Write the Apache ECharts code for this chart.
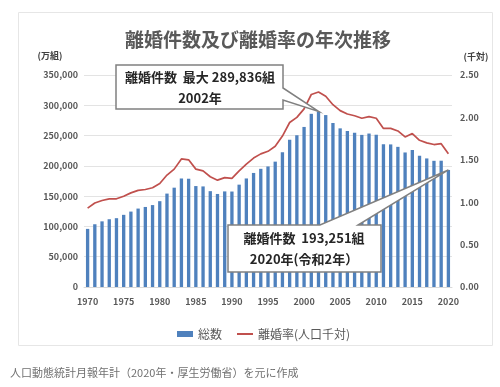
<!DOCTYPE html>
<html><head><meta charset="utf-8">
<script src="https://cdn.jsdelivr.net/npm/echarts@6/dist/echarts.min.js"></script>
<style>html,body{margin:0;padding:0;background:#fff}#c{width:500px;height:387px}</style>
</head><body><div id="c"></div>
<script>
const years = ['1970','1971','1972','1973','1974','1975','1976','1977','1978','1979',
  '1980','1981','1982','1983','1984','1985','1986','1987','1988','1989',
  '1990','1991','1992','1993','1994','1995','1996','1997','1998','1999',
  '2000','2001','2002','2003','2004','2005','2006','2007','2008','2009',
  '2010','2011','2012','2013','2014','2015','2016','2017','2018','2019','2020'];
const divorces = [95937,103595,108382,111877,113622,119135,124512,129485,132146,135250,
  141689,154221,163980,179150,178746,166640,166054,158227,153600,157811,
  157608,168969,179191,188297,195106,199016,206955,222635,243183,250529,
  264246,285911,289836,283854,270804,261917,257475,254832,251136,253353,
  251378,235719,235406,231383,222107,226215,216798,212262,208333,208496,193251];
const rate = [0.93,0.99,1.02,1.04,1.04,1.07,1.11,1.14,1.15,1.17,
  1.22,1.32,1.39,1.51,1.50,1.39,1.37,1.30,1.26,1.29,
  1.28,1.37,1.45,1.52,1.57,1.60,1.66,1.78,1.94,2.00,
  2.10,2.27,2.30,2.25,2.15,2.08,2.04,2.02,1.99,2.01,
  1.99,1.87,1.87,1.84,1.77,1.81,1.73,1.70,1.68,1.69,1.57];
const seriesNames = ['総数','離婚率(人口千対)'];
const titleText = '離婚件数及び離婚率の年次推移';
const note1 = ['離婚件数  最大 289,836組','2002年'];
const note2 = ['離婚件数  193,251組','2020年(令和2年）'];
const footer = '人口動態統計月報年計（2020年・厚生労働省）を元に作成';

const FONT = '"Noto Sans CJK JP", sans-serif';
const chart = echarts.init(document.getElementById('c'), null, {renderer:'canvas'});
const axisLbl = {color:'#595959', fontSize:9, fontWeight:'bold', fontFamily:FONT};
chart.setOption({
  animation:false,
  textStyle:{fontFamily:FONT},
  grid:{left:84, right:48, top:75, bottom:100, containLabel:false},
  legend:{
    data:[{name:seriesNames[0], icon:'rect'},
          {name:seriesNames[1], itemStyle:{opacity:0}, lineStyle:{color:'#c0504d', width:2}}],
    left:172, top:323, itemWidth:16, itemHeight:6, itemGap:14,
    textStyle:{color:'#595959', fontSize:12, fontFamily:FONT}
  },
  xAxis:{
    type:'category', data:years, boundaryGap:true,
    axisLine:{show:true, lineStyle:{color:'#d9d9d9'}},
    axisTick:{show:false},
    axisLabel:Object.assign({interval:4, margin:10}, axisLbl)
  },
  yAxis:[
    {type:'value', min:0, max:350000, interval:50000,
     axisLine:{show:false}, axisTick:{show:false},
     splitLine:{lineStyle:{color:'#e3e3e3'}},
     axisLabel:Object.assign({margin:6, formatter:v=>v.toLocaleString('en-US')}, axisLbl)},
    {type:'value', min:0, max:2.5, interval:0.5,
     axisLine:{show:false}, axisTick:{show:false}, splitLine:{show:false},
     axisLabel:Object.assign({margin:8, formatter:v=>v.toFixed(2)}, axisLbl)}
  ],
  series:[
    {name:seriesNames[0], type:'bar', data:divorces, barWidth:'46%',
     itemStyle:{color:'#4f81bd'}},
    {name:seriesNames[1], type:'line', yAxisIndex:1, data:rate, symbol:'none',
     lineStyle:{color:'#c0504d', width:1.7}, itemStyle:{color:'#c0504d'}}
  ]
});

const tip1 = chart.convertToPixel({xAxisIndex:0, yAxisIndex:0}, ['2002', divorces[32]]);
const tip2 = chart.convertToPixel({xAxisIndex:0, yAxisIndex:0}, ['2020', divorces[50]]);

function boldText(x,y,t,size,color,align){
  return {type:'text', x:x, y:y, silent:true, z:200,
    style:{text:t, fill:color||'#262626', font:'bold '+(size||13)+'px '+FONT,
      textAlign:align||'center', textVerticalAlign:'middle'}};
}
chart.setOption({graphic:[
  {type:'rect', shape:{x:18.5,y:12.5,width:474,height:333}, z:-10, silent:true,
   style:{fill:'none', stroke:'#e6e6e6', lineWidth:1}},
  boldText(258, 40, titleText, 19, '#595959'),
  boldText(50, 56, '(万組)', 9, '#404040'),
  boldText(476, 57, '(千対)', 9, '#404040'),
  {type:'text', x:10, y:373, silent:true,
   style:{text:footer, fill:'#707070', font:'11px '+FONT, textAlign:'left', textVerticalAlign:'middle'}},
  {type:'polygon', z:150, silent:true,
   shape:{points:[[116,65],[283,65],[283,88],[tip1[0],tip1[1]],[283,100],[283,109],[116,109]]},
   style:{fill:'#fff', stroke:'#808080', lineWidth:1.5}},
  boldText(200, 77, note1[0], 13),
  boldText(200, 98, note1[1], 13),
  {type:'polygon', z:150, silent:true,
   shape:{points:[[228,225],[320,225],[tip2[0],tip2[1]],[358,225],[381,225],[381,272],[228,272]]},
   style:{fill:'#fff', stroke:'#808080', lineWidth:1.5}},
  boldText(304, 238, note2[0], 13),
  boldText(304, 259, note2[1], 13)
]});
</script></body></html>
